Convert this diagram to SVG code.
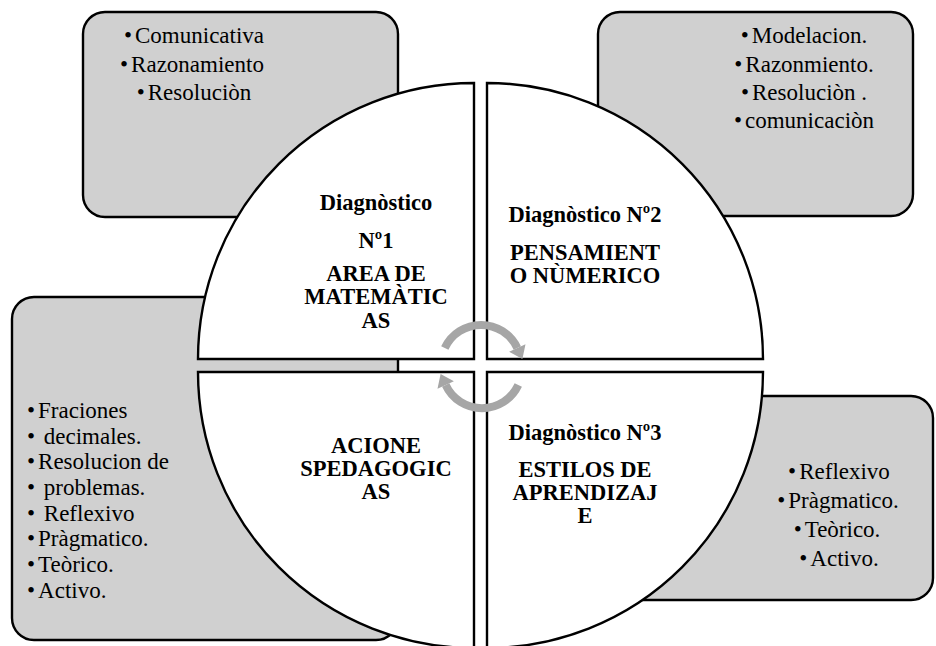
<svg xmlns="http://www.w3.org/2000/svg" width="936" height="646" viewBox="0 0 936 646" font-family="'Liberation Serif', 'Times New Roman', serif">
<style>
.box{fill:#d0d0d0;stroke:#000;stroke-width:2.4}
.quad{fill:#fff;stroke:#000;stroke-width:2.4}
.lst{font-family:'Liberation Serif','Times New Roman',serif;font-size:23px;fill:#000}
.mid{text-anchor:middle}
.hd{font-family:'Liberation Serif','Times New Roman',serif;font-size:22.5px;font-weight:bold;fill:#000;text-anchor:middle}
.arc{fill:none;stroke:#a6a6a6;stroke-width:8}
.head{fill:#a6a6a6}
</style>
<rect width="936" height="646" fill="#fff"/>
<g id="box-top-left">
<rect class="box" x="83" y="12" width="315" height="205" rx="22"/>
<text class="lst mid" x="194" y="43">•<tspan dx="3">Comunicativa</tspan></text>
<text class="lst mid" x="192" y="72">•<tspan dx="3">Razonamiento</tspan></text>
<text class="lst mid" x="194" y="100">•<tspan dx="3">Resoluciòn</tspan></text>
</g>
<g id="box-top-right">
<rect class="box" x="598" y="12" width="315" height="204" rx="22"/>
<text class="lst mid" x="804" y="43">•<tspan dx="3">Modelacion.</tspan></text>
<text class="lst mid" x="804" y="72">•<tspan dx="3">Razonmiento.</tspan></text>
<text class="lst mid" x="804" y="100">•<tspan dx="3">Resoluciòn .</tspan></text>
<text class="lst mid" x="804" y="128">•<tspan dx="3">comunicaciòn</tspan></text>
</g>
<g id="box-bottom-left">
<rect class="box" x="12" y="297" width="386" height="343" rx="22"/>
<text class="lst" x="27" y="418">•<tspan dx="3">Fraciones</tspan></text>
<text class="lst" x="27" y="444">•<tspan dx="3"> decimales.</tspan></text>
<text class="lst" x="27" y="469">•<tspan dx="3">Resolucion de</tspan></text>
<text class="lst" x="27" y="495">•<tspan dx="3"> problemas.</tspan></text>
<text class="lst" x="27" y="521">•<tspan dx="3"> Reflexivo</tspan></text>
<text class="lst" x="27" y="546">•<tspan dx="3">Pràgmatico.</tspan></text>
<text class="lst" x="27" y="572">•<tspan dx="3">Teòrico.</tspan></text>
<text class="lst" x="27" y="598">•<tspan dx="3">Activo.</tspan></text>
</g>
<g id="box-bottom-right">
<rect class="box" x="619" y="396" width="314" height="204" rx="22"/>
<text class="lst mid" x="839" y="479">•<tspan dx="3">Reflexivo</tspan></text>
<text class="lst mid" x="838" y="508">•<tspan dx="3">Pràgmatico.</tspan></text>
<text class="lst mid" x="837" y="537">•<tspan dx="3">Teòrico.</tspan></text>
<text class="lst mid" x="839" y="566">•<tspan dx="3">Activo.</tspan></text>
</g>
<g id="quad-top-left">
<path class="quad" d="M474,359 L198,359 A276,276 0 0 1 474,83 Z"/>
<text class="hd" x="376" y="210">Diagnòstico</text>
<text class="hd" x="376" y="248">Nº1</text>
<text class="hd" x="376" y="281">AREA DE</text>
<text class="hd" x="376" y="304">MATEMÀTIC</text>
<text class="hd" x="376" y="328">AS</text>
</g>
<g id="quad-top-right">
<path class="quad" d="M487,359 L487,83 A276,276 0 0 1 763,359 Z"/>
<text class="hd" x="585" y="222">Diagnòstico Nº2</text>
<text class="hd" x="585" y="260">PENSAMIENT</text>
<text class="hd" x="585" y="283">O NÙMERICO</text>
</g>
<g id="quad-bottom-left">
<path class="quad" d="M474,372 L474,648 A276,276 0 0 1 198,372 Z"/>
<text class="hd" x="376" y="453">ACIONE</text>
<text class="hd" x="376" y="476">SPEDAGOGIC</text>
<text class="hd" x="376" y="499">AS</text>
</g>
<g id="quad-bottom-right">
<path class="quad" d="M487,372 L763,372 A276,276 0 0 1 487,648 Z"/>
<text class="hd" x="585" y="440">Diagnòstico Nº3</text>
<text class="hd" x="585" y="477">ESTILOS DE</text>
<text class="hd" x="585" y="500">APRENDIZAJ</text>
<text class="hd" x="585" y="523">E</text>
</g>
<g id="connectors">
<path class="arc" d="M444.8,348 A40,40 0 0 1 517.3,348"/>
<polygon class="head" points="525.5,344.2 509.1,351.8 522.4,358.9"/>
<path class="arc" d="M518.3,385 A40,40 0 0 1 445.7,385"/>
<polygon class="head" points="437.5,388.8 453.9,381.2 440.6,374.1"/>
</g>
</svg>
